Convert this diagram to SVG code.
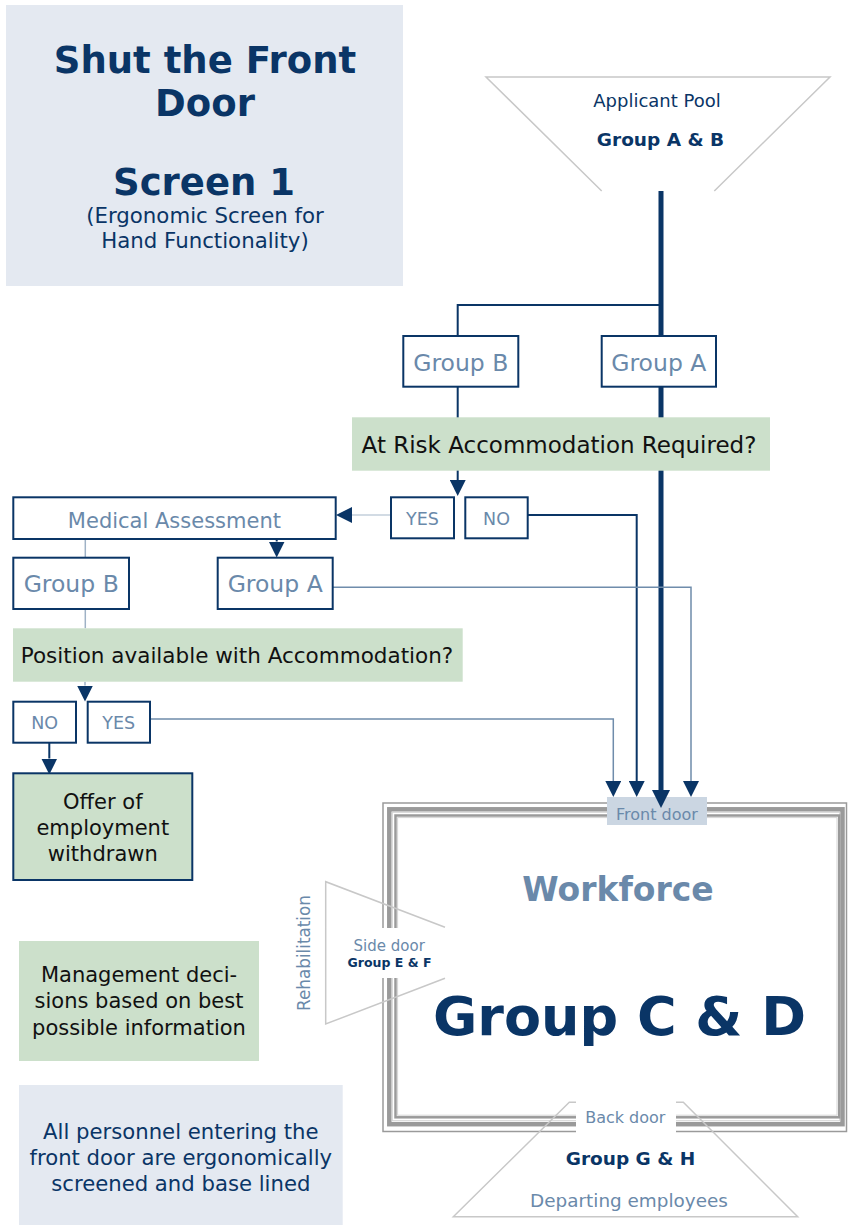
<svg xmlns="http://www.w3.org/2000/svg" width="848" height="1225" viewBox="0 0 848 1225">
<defs>
<style>
text{font-family:"DejaVu Sans","Verdana",sans-serif;}
.navy{fill:#0a3566;}
.muted{fill:#6a89aa;}
.dark{fill:#111;}
.b{font-weight:bold;}
.box{fill:#fff;stroke:#0a3566;stroke-width:2;}
.green{fill:#cce0cb;}
.pale{fill:#e4e9f1;}
.funnel{fill:none;stroke:#c8c8c8;stroke-width:1.5;}
.frame{fill:none;stroke:#9a9a9a;}
.c-navy{fill:none;stroke:#0a3566;stroke-width:2;}
.c-mid{fill:none;stroke:#6f8cab;stroke-width:1.5;}
.c-light{fill:none;stroke:#9fb2c6;stroke-width:1.5;}
.c-faint{fill:none;stroke:#c3cfdb;stroke-width:1.5;}
</style>
<marker id="ah" markerUnits="userSpaceOnUse" markerWidth="16" markerHeight="16" viewBox="0 0 15 15" refX="0" refY="7.5" orient="auto"><path d="M0,0 L15,7.5 L0,15 z" fill="#0a3566"/></marker>
<marker id="ahBig" markerUnits="userSpaceOnUse" markerWidth="18" markerHeight="18" viewBox="0 0 17 17" refX="0" refY="8.5" orient="auto"><path d="M0,0 L17,8.5 L0,17 z" fill="#0a3566"/></marker>
</defs>
<rect width="848" height="1225" fill="#fff"/>

<g id="title">
<rect class="pale" x="6" y="5" width="397" height="281"/>
<text class="navy b" x="205" y="73" font-size="37" text-anchor="middle">Shut the Front</text>
<text class="navy b" x="205" y="116" font-size="37" text-anchor="middle">Door</text>
<text class="navy b" x="204" y="195" font-size="37" text-anchor="middle">Screen 1</text>
<text class="navy" x="205" y="223" font-size="21.3" text-anchor="middle">(Ergonomic Screen for</text>
<text class="navy" x="205" y="248" font-size="21.3" text-anchor="middle">Hand Functionality)</text>
</g>

<g id="applicant-pool">
<polyline class="funnel" points="601.7,191 486,77 830,77 714.3,191"/>
<text class="navy" x="657" y="107" font-size="18" text-anchor="middle">Applicant Pool</text>
<text class="navy b" x="660.5" y="146" font-size="18.5" text-anchor="middle">Group A &amp; B</text>
</g>

<g id="workforce">
<rect class="frame" x="383" y="803" width="463.5" height="328.5" stroke-width="1.5"/>
<rect class="frame" x="389.3" y="809.3" width="453.2" height="314.9" stroke-width="4.5"/>
<rect fill="none" stroke="#d4d4d4" stroke-width="1" x="392.3" y="812.3" width="447.4" height="308.4"/>
<rect class="frame" x="395.5" y="815.5" width="443.7" height="301.8" stroke-width="2.5"/>
<rect fill="none" stroke="#d4d4d4" stroke-width="1" x="397.6" y="817.6" width="439.4" height="297.6"/>
<text class="muted b" x="618" y="901" font-size="33" text-anchor="middle">Workforce</text>
<text class="navy b" x="619.5" y="1035" font-size="54" text-anchor="middle">Group C &amp; D</text>
</g>

<g id="front-door">
<rect x="607" y="797" width="100" height="28" fill="#cbd6e2"/>
<text class="muted" x="657" y="820" font-size="16" text-anchor="middle">Front door</text>
</g>

<g id="side-door">
<rect x="377" y="928" width="24" height="50" fill="#fff"/>
<polyline class="funnel" points="445,927.3 325.7,881.7 325.7,1024 445,978.3"/>
<text class="muted" x="389.2" y="951" font-size="15" text-anchor="middle">Side door</text>
<text class="navy b" x="389.5" y="966.7" font-size="12.5" text-anchor="middle">Group E &amp; F</text>
<text class="muted" transform="translate(310,953) rotate(-90)" font-size="16.8" text-anchor="middle">Rehabilitation</text>
</g>

<g id="back-door">
<polygon class="funnel" points="453.3,1216.7 569.3,1102.3 683.3,1102.3 797.7,1216.7"/>
<rect x="576" y="1101" width="100" height="33" fill="#fff"/>
<text class="muted" x="625.3" y="1123.3" font-size="16" text-anchor="middle">Back door</text>
<text class="navy b" x="630.5" y="1165" font-size="18.5" text-anchor="middle">Group G &amp; H</text>
<text class="muted" x="629" y="1206.7" font-size="18.4" text-anchor="middle">Departing employees</text>
</g>

<g id="connectors">
<path d="M661,191 V790" fill="none" stroke="#0a3566" stroke-width="5" marker-end="url(#ahBig)"/>
<path class="c-navy" d="M661,305 H457.7 V336"/>
<path class="c-navy" d="M457.7,387 V480" marker-end="url(#ah)"/>
<path class="c-navy" d="M527.7,515 H636.7 V781" marker-end="url(#ah)"/>
<path class="c-faint" d="M391,515 H352" marker-end="url(#ah)"/>
<path class="c-navy" d="M276.7,539 V541.5" marker-end="url(#ah)"/>
<path class="c-light" d="M85.3,539 V557.7"/>
<path class="c-light" d="M85.3,609 V628.3"/>
<path class="c-light" d="M85,681.7 V685.5" marker-end="url(#ah)"/>
<path class="c-mid" d="M332.7,587.3 H691 V781" marker-end="url(#ah)"/>
<path class="c-mid" d="M150,719 H613.3 V781" marker-end="url(#ah)"/>
<path class="c-navy" d="M49.3,742.7 V758.5" marker-end="url(#ah)"/>
</g>

<g id="group-b-top">
<rect class="box" x="403.3" y="336" width="115" height="50.7"/>
<text class="muted" x="460.8" y="371" font-size="23.5" text-anchor="middle">Group B</text>
</g>
<g id="group-a-top">
<rect class="box" x="601.7" y="336" width="114.3" height="50.7"/>
<text class="muted" x="658.8" y="371" font-size="23.5" text-anchor="middle">Group A</text>
</g>
<g id="at-risk">
<rect class="green" x="352" y="417.3" width="418" height="53.4"/>
<text class="dark" x="559" y="453" font-size="23" text-anchor="middle">At Risk Accommodation Required?</text>
</g>
<g id="yes-top">
<rect class="box" x="391" y="497.3" width="63" height="41"/>
<text class="muted" x="422.5" y="525" font-size="17.5" text-anchor="middle">YES</text>
</g>
<g id="no-top">
<rect class="box" x="465.3" y="497.3" width="62.4" height="41"/>
<text class="muted" x="496.5" y="525" font-size="17.5" text-anchor="middle">NO</text>
</g>
<g id="medical-assessment">
<rect class="box" x="13.3" y="497.3" width="322.4" height="41.7"/>
<text class="muted" x="174.4" y="528.3" font-size="21" text-anchor="middle">Medical Assessment</text>
</g>
<g id="group-b-2">
<rect class="box" x="13.3" y="557.7" width="115.7" height="51.3"/>
<text class="muted" x="71.2" y="592" font-size="23.5" text-anchor="middle">Group B</text>
</g>
<g id="group-a-2">
<rect class="box" x="217.7" y="557.7" width="115" height="51.3"/>
<text class="muted" x="275.2" y="592" font-size="23.5" text-anchor="middle">Group A</text>
</g>
<g id="position-available">
<rect class="green" x="13" y="628.3" width="449.7" height="53.4"/>
<text class="dark" x="237" y="663.3" font-size="21.5" text-anchor="middle">Position available with Accommodation?</text>
</g>
<g id="no-2">
<rect class="box" x="13.3" y="701.7" width="62.7" height="41"/>
<text class="muted" x="44.7" y="729.3" font-size="17.5" text-anchor="middle">NO</text>
</g>
<g id="yes-2">
<rect class="box" x="87.7" y="701.7" width="62.3" height="41"/>
<text class="muted" x="118.8" y="729.3" font-size="17.5" text-anchor="middle">YES</text>
</g>
<g id="offer-withdrawn">
<rect class="green" x="13.3" y="773.3" width="179" height="106.7" stroke="#0a3566" stroke-width="2"/>
<text class="dark" x="102.8" y="809.3" font-size="21" text-anchor="middle">Offer of</text>
<text class="dark" x="102.8" y="835" font-size="21" text-anchor="middle">employment</text>
<text class="dark" x="102.8" y="860.7" font-size="21" text-anchor="middle">withdrawn</text>
</g>
<g id="management-note">
<rect class="green" x="19" y="941" width="240" height="120"/>
<text class="dark" x="139" y="982.3" font-size="21" text-anchor="middle">Management deci-</text>
<text class="dark" x="139" y="1008.3" font-size="21" text-anchor="middle">sions based on best</text>
<text class="dark" x="139" y="1035" font-size="21" text-anchor="middle">possible information</text>
</g>
<g id="personnel-note">
<rect class="pale" x="19" y="1085" width="323.7" height="140"/>
<text class="navy" x="180.8" y="1139.3" font-size="21.2" text-anchor="middle">All personnel entering the</text>
<text class="navy" x="180.8" y="1165" font-size="21.2" text-anchor="middle">front door are ergonomically</text>
<text class="navy" x="180.8" y="1190.7" font-size="21.2" text-anchor="middle">screened and base lined</text>
</g>
</svg>
